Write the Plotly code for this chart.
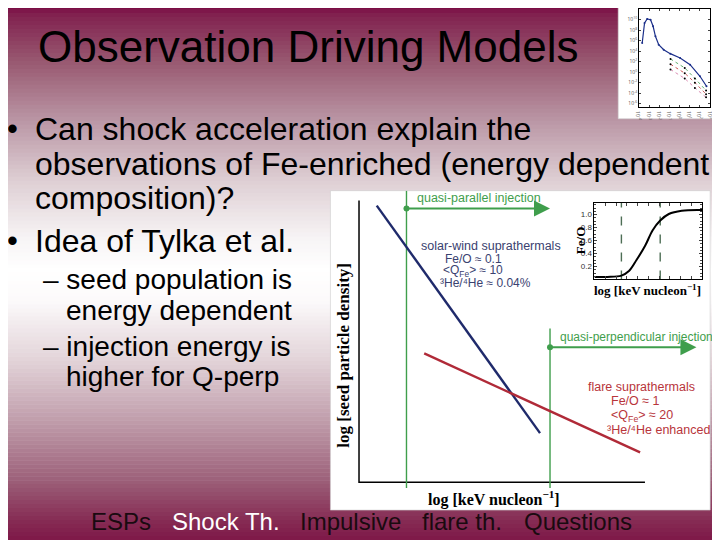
import plotly.graph_objects as go

W, H = 720, 540
OFF = 8  # page margin of the viewer

# ---------------- data ----------------
# main schematic (arbitrary log units: x = log energy, y = log seed density)
sw_energy = [0.62, 6.33]
sw_density = [9.82, 1.74]
flare_energy = [2.28, 9.83]
flare_density = [4.57, 1.06]
frame_x = [0, 0, 10]
frame_y = [10, 0, 0]
qpar_energy = 1.66
qpar_span = [-0.21, 10.35]
qpar_level = 9.72
qpar_arrow_end = 6.68
qperp_energy = 6.68
qperp_span = [-0.21, 5.46]
qperp_level = 4.79
qperp_arrow_end = 11.8

# inset Fe/O vs energy
feo_x = [0.0, 0.12, 0.25, 0.32, 0.39, 0.47, 0.54, 0.61, 0.69, 0.81, 1.0]
feo_y = [0.04, 0.04, 0.06, 0.13, 0.30, 0.52, 0.76, 0.91, 1.01, 1.06, 1.07]
feo_dash_x = [0.25, 0.61]
feo_ticks = [0.2, 0.4, 0.6, 0.8, 1.0]
feo_ticktext = ["0.2", "0.4", "0.6", "0.8", "1.0"]

# thumbnail (log E, log flux)
thumb_E = [-3.68, -3.45, -3.19, -2.86, -2.61, -2.38, -2.06, -1.57, -0.92, 0.05, 1.03, 2.0, 2.64]
thumb_F = [5.54, 9.34, 10.1, 9.97, 8.71, 6.81, 5.22, 4.27, 3.51, 2.69, 1.42, -0.79, -2.69]
thumb_E2 = [-0.9, 0.5, 1.5, 2.6]
thumb_green = [2.5, 0.8, -1.2, -3.5]
thumb_red = [1.5, -0.2, -2.0, -4.2]
thumb_pink = [0.5, -1.2, -3.0, -4.8]
thumb_xticks = [-4, -3, -2, -1, 0, 1, 2, 3]
thumb_yticks = [-6, -4, -2, 0, 2, 4, 6, 8, 10]

nav_labels = ["ESPs", "Shock Th.", "Impulsive", "flare th.", "Questions"]
nav_x = [86, 168, 297, 421, 524]
nav_colors = ["#1a0a10", "#ffffff", "#1a0a10", "#1a0a10", "#1a0a10"]

# ---------------- styling helpers ----------------
GREEN = "#3f9e4c"
NAVY = "#1f2a6b"
RED = "#b02a38"
SWTXT = "#3a4270"
FLTXT = "#b8353b"
SANS = "Liberation Sans"
SERIF = "Liberation Serif"


def P(px, py):
    return (px - OFF) / W, 1 - (py - OFF) / H


def clamp(v):
    return min(1.0, max(0.0, v))


def dom_x(a, b):
    return [clamp(P(a, 0)[0]), clamp(P(b, 0)[0])]


def dom_y(top, bottom):
    return [clamp(P(0, bottom)[1]), clamp(P(0, top)[1])]


# background gradient keypoints (pixel y, rgb)
grad = [(0, (118, 0, 62)), (15, (130, 35, 80)), (60, (152, 88, 112)), (120, (186, 150, 165)),
        (180, (222, 207, 212)), (240, (248, 245, 246)), (270, (255, 255, 255)), (300, (252, 250, 251)),
        (360, (226, 211, 216)), (420, (192, 157, 171)), (480, (156, 96, 121)), (520, (134, 44, 84)),
        (560, (118, 4, 60))]


def gcol(y):
    for (y0, c0), (y1, c1) in zip(grad[:-1], grad[1:]):
        if y0 <= y <= y1:
            t = (y - y0) / (y1 - y0)
            return "rgb(%d,%d,%d)" % tuple(round(a + (b - a) * t) for a, b in zip(c0, c1))
    return "rgb(118,4,60)"


shapes = []
step = 4
for y in range(0, H + 2 * OFF, step):
    x0, y0 = P(0, y)
    x1, y1 = P(W + 2 * OFF, y + step + 0.5)
    shapes.append(dict(type="rect", xref="paper", yref="paper", x0=x0, x1=x1, y0=y1, y1=y0,
                       fillcolor=gcol(y + step / 2), line=dict(width=0), layer="below"))
# white figure boxes
for (a, b, c, d) in [(330, 190, 714, 510), (621, 0, 718, 118)]:
    x0, y0 = P(a, b)
    x1, y1 = P(c, d)
    shapes.append(dict(type="rect", xref="paper", yref="paper", x0=x0, x1=x1, y0=y1, y1=y0,
                       fillcolor="white", line=dict(width=0.6, color="#cccccc"), layer="below"))

fig = go.Figure()

# ---- main schematic ----
fig.add_trace(go.Scatter(x=frame_x, y=frame_y, mode="lines", line=dict(color="black", width=1.5),
                         xaxis="x", yaxis="y", hoverinfo="skip"))
fig.add_trace(go.Scatter(x=[qpar_energy, qpar_energy], y=qpar_span, mode="lines",
                         line=dict(color=GREEN, width=1.4), xaxis="x", yaxis="y"))
fig.add_trace(go.Scatter(x=[qperp_energy, qperp_energy], y=qperp_span, mode="lines",
                         line=dict(color=GREEN, width=1.4), xaxis="x", yaxis="y"))
fig.add_trace(go.Scatter(x=sw_energy, y=sw_density, mode="lines", line=dict(color=NAVY, width=2.4),
                         xaxis="x", yaxis="y"))
fig.add_trace(go.Scatter(x=flare_energy, y=flare_density, mode="lines", line=dict(color=RED, width=2.4),
                         xaxis="x", yaxis="y"))
fig.add_trace(go.Scatter(x=[qpar_energy, qperp_energy], y=[qpar_level, qperp_level], mode="markers",
                         marker=dict(color=GREEN, size=6), xaxis="x", yaxis="y"))

# ---- inset Fe/O ----
for xd in feo_dash_x:
    fig.add_trace(go.Scatter(x=[xd, xd], y=[0, 1.185], mode="lines",
                             line=dict(color="#4d6e55", width=1.4, dash="dash"), xaxis="x2", yaxis="y2"))
fig.add_trace(go.Scatter(x=feo_x, y=feo_y, mode="lines", line=dict(color="black", width=2, shape="spline"),
                         xaxis="x2", yaxis="y2"))

# ---- thumbnail ----
fig.add_trace(go.Scatter(x=thumb_E, y=thumb_F, mode="lines+markers", line=dict(color="#1b2f8a", width=1.2),
                         marker=dict(size=2, color="#1b2f8a"), xaxis="x3", yaxis="y3"))
for ys, col in [(thumb_green, "#3a9a4a"), (thumb_red, "#c03030"), (thumb_pink, "#d070a0")]:
    fig.add_trace(go.Scatter(x=thumb_E2, y=ys, mode="lines+markers", line=dict(color=col, width=0.8, dash="dot"),
                             marker=dict(size=2, color="black"), xaxis="x3", yaxis="y3"))

ann = []


def text(px, py, s, size, color="black", family=SANS, anchor="left", angle=0, **kw):
    x, y = P(px, py)
    ann.append(dict(x=x, y=y, xref="paper", yref="paper", text=s, showarrow=False, xanchor=anchor,
                    yanchor="middle", textangle=angle, font=dict(size=size, color=color, family=family), **kw))


BIG = 5  # extra left correction for large slide text
# slide text
text(37 - BIG, 46, "Observation Driving Models", 44)
text(9, 128, "•", 31, anchor="center")
text(9, 240, "•", 31, anchor="center")
text(34 - BIG, 128, "Can shock acceleration explain the", 32)
text(34 - BIG, 163, "observations of Fe-enriched (energy dependent", 32)
text(34 - BIG, 197, "composition)?", 32)
text(34 - BIG, 240, "Idea of Tylka et al.", 32)
text(42 - BIG, 279, "– seed population is", 28)
text(66 - BIG, 310, "energy dependent", 28)
text(42 - BIG, 346, "– injection energy is", 28)
text(66 - BIG, 376, "higher for Q-perp", 28)
for lab, x, c in zip(nav_labels, nav_x, nav_colors):
    text(x, 521, lab, 24, color=c)

# schematic labels
text(416, 197, "quasi-parallel injection", 12.5, GREEN)
text(420, 245, "solar-wind suprathermals", 12.5, SWTXT)
text(444, 258, "Fe/O ≈ 0.1", 12, SWTXT)
text(442, 270.5, "&lt;Q<sub>Fe</sub>&gt; ≈ 10", 12, SWTXT)
text(439, 283, "³He/⁴He ≈ 0.04%", 12, SWTXT)
text(560, 337, "quasi-perpendicular injection", 12, GREEN)
text(588, 387, "flare suprathermals", 12.5, FLTXT)
text(612, 401, "Fe/O ≈ 1", 12.5, FLTXT)
text(612, 416, "&lt;Q<sub>Fe</sub>&gt; ≈ 20", 12.5, FLTXT)
text(608, 430, "³He/⁴He enhanced", 12.5, FLTXT)
text(343, 355, "<b>log [seed particle density]</b>", 17, family=SERIF, anchor="center", angle=-90)
text(495, 498, "<b>log [keV nucleon<sup>−1</sup>]</b>", 16, family=SERIF, anchor="center")
text(583, 240, "<b>Fe/O</b>", 13, family=SERIF, anchor="center", angle=-90)
text(651, 290, "<b>log [keV nucleon<sup>−1</sup>]</b>", 13, family=SERIF, anchor="center")

# arrows
for x_start, x_end, lvl in [(qpar_energy, qpar_arrow_end, qpar_level), (qperp_energy, qperp_arrow_end, qperp_level)]:
    ann.append(dict(x=x_end, y=lvl, ax=x_start, ay=lvl, xref="x", yref="y", axref="x", ayref="y",
                    text="", showarrow=True, arrowhead=2, arrowsize=1.6, arrowwidth=2, arrowcolor=GREEN))

hidden = dict(visible=False, fixedrange=True)
fig.update_layout(
    width=W, height=H, margin=dict(l=0, r=0, t=0, b=0),
    paper_bgcolor="white", plot_bgcolor="rgba(0,0,0,0)", showlegend=False,
    shapes=shapes, annotations=ann,
    xaxis=dict(domain=dom_x(330, 714), range=[-1.0, 12.28], **hidden),
    yaxis=dict(domain=dom_y(190, 510), range=[-0.99, 10.35], **hidden),
    xaxis2=dict(domain=dom_x(597, 706), range=[0, 1], anchor="y2", showline=True, linecolor="black",
                linewidth=1, mirror="allticks", ticks="inside", ticklen=3, dtick=0.1, showticklabels=False,
                showgrid=False, zeroline=False, fixedrange=True),
    yaxis2=dict(domain=dom_y(202, 279), range=[0, 1.185], anchor="x2", showline=True,
                linecolor="black", linewidth=1, mirror="allticks", ticks="inside", ticklen=3,
                tickvals=feo_ticks, ticktext=feo_ticktext, tickfont=dict(size=8, family=SANS, color="#333"),
                minor=dict(ticks="inside", ticklen=2, dtick=0.05), showgrid=False, zeroline=False,
                fixedrange=True),
    xaxis3=dict(domain=dom_x(642, 714), range=[-4, 3], anchor="y3", showline=True, linecolor="black",
                linewidth=0.6, mirror="allticks", ticks="inside", ticklen=2, tickvals=thumb_xticks,
                ticktext=["10<sup>%d</sup>" % v for v in thumb_xticks], tickfont=dict(size=5, color="#555"),
                showgrid=False, zeroline=False, fixedrange=True),
    yaxis3=dict(domain=dom_y(8, 106), range=[-6.6, 12], anchor="x3", showline=True, linecolor="black",
                linewidth=0.6, mirror="allticks", ticks="inside", ticklen=2, tickvals=thumb_yticks,
                ticktext=["10<sup>%d</sup>" % v for v in thumb_yticks], tickfont=dict(size=5, color="#555"),
                showgrid=False, zeroline=False, fixedrange=True),
)

fig.write_html("out.html")
